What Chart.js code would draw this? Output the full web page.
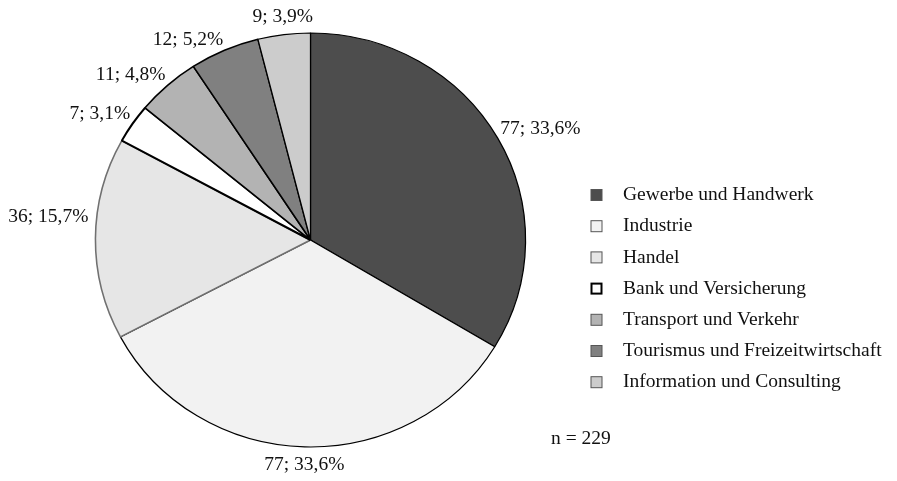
<!DOCTYPE html>
<html>
<head>
<meta charset="utf-8">
<script src="https://cdn.jsdelivr.net/npm/chart.js@4/dist/chart.umd.min.js"></script>
<style>
  html, body { margin: 0; padding: 0; background: #ffffff; }
  #wrap { width: 897px; height: 481px; position: relative; }
</style>
</head>
<body>
<div id="wrap"><canvas id="chart" width="897" height="481"></canvas></div>
<script>
// Branchen der befragten Unternehmen
const categories = [
  'Gewerbe und Handwerk',
  'Industrie',
  'Handel',
  'Bank und Versicherung',
  'Transport und Verkehr',
  'Tourismus und Freizeitwirtschaft',
  'Information und Consulting'
];
const counts = [77, 77, 36, 7, 11, 12, 9];
const sampleSize = 229;

const fillColors   = ['#4d4d4d', '#f2f2f2', '#e6e6e6', '#ffffff', '#b3b3b3', '#808080', '#cccccc'];
const borderColors = ['#000000', '#000000', '#707070', '#000000', '#000000', '#000000', '#000000'];
const borderWidths = [1.2, 1.2, 1.5, 2, 1.5, 1.5, 1.2];

const FONT = '19.5px "Liberation Serif", "Times New Roman", serif';
const TEXT = '#111111';
const ASPECT = 1.039;   // horizontal stretch of the pie

const pctText = v => (v / sampleSize * 100).toFixed(1).replace('.', ',') + '%';

// Slightly widen the pie horizontally around its centre
const stretchPlugin = {
  id: 'stretch',
  beforeDatasetsDraw(chart) {
    const arc = chart.getDatasetMeta(0).data[0];
    const ctx = chart.ctx;
    ctx.save();
    ctx.translate(arc.x, arc.y);
    ctx.scale(ASPECT, 1);
    ctx.translate(-arc.x, -arc.y);
  },
  afterDatasetsDraw(chart) {
    chart.ctx.restore();
  }
};

// "Anzahl; Anteil" labels outside each slice: the label box touches the
// rim at the slice's mid angle with the corner facing the pie
const labelNudge = { 2: [-4, -22] };   // Handel label sits a bit higher
const sliceLabelPlugin = {
  id: 'sliceLabels',
  afterDatasetsDraw(chart) {
    const ctx = chart.ctx;
    const meta = chart.getDatasetMeta(0);
    const halfH = 8;
    ctx.save();
    ctx.font = FONT;
    ctx.fillStyle = TEXT;
    ctx.textBaseline = 'middle';
    meta.data.forEach((arc, i) => {
      const mid = (arc.startAngle + arc.endAngle) / 2;
      const c = Math.cos(mid), s = Math.sin(mid);
      const R = arc.outerRadius;
      const hAlign = c > 0.25 ? 'left' : (c < -0.25 ? 'right' : 'center');
      const vAlign = s < -0.25 ? 'bottom' : (s > 0.25 ? 'top' : 'middle');
      const gap = hAlign === 'center' ? 10 : 3;
      let x = arc.x + R * ASPECT * c + gap * c;
      let y = arc.y + R * s + gap * s;
      if (vAlign === 'bottom') y -= halfH;
      if (vAlign === 'top') y += halfH;
      const n = labelNudge[i];
      if (n) { x += n[0]; y += n[1]; }
      ctx.textAlign = hAlign;
      ctx.fillText(counts[i] + '; ' + pctText(counts[i]), x, y);
    });
    ctx.restore();
  }
};

// Legend block and sample size on the right
const legendPlugin = {
  id: 'sideLegend',
  afterDraw(chart) {
    const ctx = chart.ctx;
    ctx.save();
    ctx.font = FONT;
    ctx.textBaseline = 'middle';
    ctx.textAlign = 'left';
    const x0 = 591, size = 11, textX = 623, y0 = 195, step = 31.2;
    categories.forEach((name, i) => {
      const y = y0 + i * step;
      const bw = i === 3 ? 2 : 1;
      ctx.fillStyle = fillColors[i];
      ctx.fillRect(x0, y - size / 2, size, size);
      ctx.lineWidth = bw;
      ctx.strokeStyle = i === 3 ? '#000000' : '#555555';
      ctx.strokeRect(x0 + bw / 2 - 0.5, y - size / 2 + bw / 2 - 0.5, size - bw + 1, size - bw + 1);
      ctx.fillStyle = TEXT;
      ctx.fillText(name, textX, y);
    });
    ctx.fillText('n = ' + sampleSize, 551, 439);
    ctx.restore();
  }
};

new Chart(document.getElementById('chart'), {
  type: 'pie',
  data: {
    labels: categories,
    datasets: [{
      data: counts,
      backgroundColor: fillColors,
      borderColor: borderColors,
      borderWidth: borderWidths,
      clip: false
    }]
  },
  options: {
    responsive: false,
    animation: false,
    events: [],
    radius: 207,
    layout: { padding: { left: 64, right: 340, top: 33, bottom: 34 } },
    plugins: {
      legend: { display: false },
      tooltip: { enabled: false },
      title: { display: false }
    }
  },
  plugins: [stretchPlugin, sliceLabelPlugin, legendPlugin]
});
</script>
</body>
</html>
